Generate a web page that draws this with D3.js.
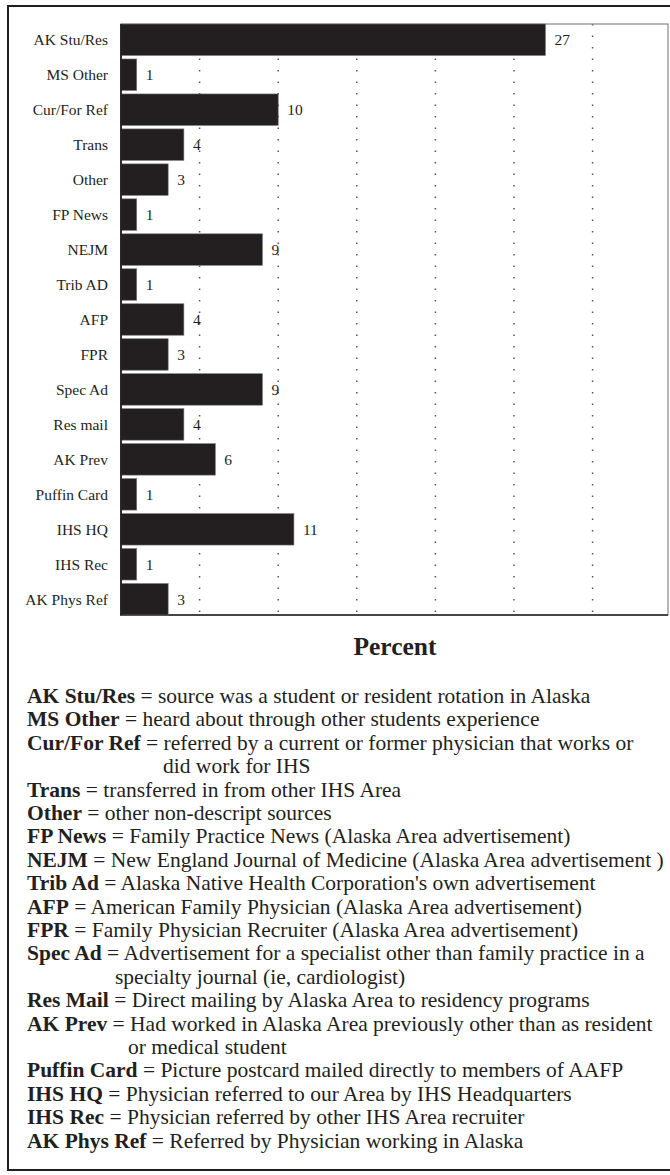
<!DOCTYPE html>
<html>
  <head>
    <script src="https://d3js.org/d3.v7.min.js"></script>
    <style>
      body { margin: 0px; background: #fff; }
      text { font-family: "Liberation Serif", "Times New Roman", serif; fill: #231f20; }
      .cat { font-size: 15.5px; }
      .val { font-size: 15.5px; }
      .title { font-size: 25.5px; font-weight: bold; }
      .key { font-size: 21.5px; }
      .key .abbr { font-weight: bold; }
    </style>
  </head>
  <body>
    <svg width="670" height="1175"></svg>
    <script>
      var categories = ["AK Stu/Res", "MS Other", "Cur/For Ref", "Trans", "Other", "FP News", "NEJM",
        "Trib AD", "AFP", "FPR", "Spec Ad", "Res mail", "AK Prev", "Puffin Card", "IHS HQ", "IHS Rec", "AK Phys Ref"];
      var percents = [27, 1, 10, 4, 3, 1, 9, 1, 4, 3, 9, 4, 6, 1, 11, 1, 3];
      var gridValues = [5, 10, 15, 20, 25, 30];

      // legend: bold abbreviation, description, optional wrapped second line
      var keyAbbr = ["AK Stu/Res", "MS Other", "Cur/For Ref", "Trans", "Other", "FP News", "NEJM", "Trib Ad",
        "AFP", "FPR", "Spec Ad", "Res Mail", "AK Prev", "Puffin Card", "IHS HQ", "IHS Rec", "AK Phys Ref"];
      var keyText = [
        "source was a student or resident rotation in Alaska",
        "heard about through other students experience",
        "referred by a current or former physician that works or",
        "transferred in from other IHS Area",
        "other non-descript sources",
        "Family Practice News (Alaska Area advertisement)",
        "New England Journal of Medicine (Alaska Area advertisement )",
        "Alaska Native Health Corporation's own advertisement",
        "American Family Physician (Alaska Area advertisement)",
        "Family Physician Recruiter (Alaska Area advertisement)",
        "Advertisement for a specialist other than family practice in a",
        "Direct mailing by Alaska Area to residency programs",
        "Had worked in Alaska Area previously other than as resident",
        "Picture postcard mailed directly to members of AAFP",
        "Physician referred to our Area by IHS Headquarters",
        "Physician referred by other IHS Area recruiter",
        "Referred by Physician working in Alaska"
      ];
      var keyWrap = ["", "", "did work for IHS", "", "", "", "", "", "", "",
        "specialty journal (ie, cardiologist)", "", "or medical student", "", "", "", ""];
      var wrapIndent = [0, 0, 163, 0, 0, 0, 0, 0, 0, 0, 115, 0, 128, 0, 0, 0, 0];

      var svg = d3.select("svg");
      var plotLeft = 121, plotTop = 24, plotRight = 668, plotBottom = 615;

      // outer frame
      svg.append("rect")
        .attr("x", 8).attr("y", 6).attr("width", 664).attr("height", 1164)
        .attr("fill", "none").attr("stroke", "#231f20").attr("stroke-width", 2);

      var x = d3.scaleLinear().domain([0, 35]).range([plotLeft, plotLeft + 35 * 15.72]);
      var y = d3.scaleBand().domain(categories).range([plotTop, plotBottom]).paddingInner(0.1).paddingOuter(0);

      // dotted gridlines
      svg.append("g")
        .selectAll("line")
        .data(gridValues)
        .join("line")
        .attr("x1", d => x(d)).attr("x2", d => x(d))
        .attr("y1", plotTop).attr("y2", plotBottom)
        .attr("stroke", "#555").attr("stroke-width", 1.5)
        .attr("stroke-dasharray", "1.5,10");

      // plot frame
      svg.append("rect")
        .attr("x", plotLeft).attr("y", plotTop).attr("width", plotRight - plotLeft).attr("height", plotBottom - plotTop)
        .attr("fill", "none").attr("stroke", "#888").attr("stroke-width", 1.2);
      svg.append("line")
        .attr("x1", plotLeft - 1).attr("x2", plotRight).attr("y1", plotBottom).attr("y2", plotBottom)
        .attr("stroke", "#231f20").attr("stroke-width", 1.5);

      svg.append("g")
        .selectAll("rect")
        .data(percents)
        .join("rect")
        .attr("x", plotLeft)
        .attr("y", (d, i) => y(categories[i]))
        .attr("width", d => x(d) - plotLeft)
        .attr("height", y.bandwidth())
        .attr("fill", "#231f20")
        .attr("stroke", "#777").attr("stroke-width", 0.6);

      svg.append("line")
        .attr("x1", plotLeft).attr("x2", plotLeft).attr("y1", plotTop).attr("y2", plotBottom)
        .attr("stroke", "#231f20").attr("stroke-width", 1.8);

      svg.append("g")
        .selectAll("text")
        .data(categories)
        .join("text")
        .attr("class", "cat")
        .attr("x", 108)
        .attr("y", d => y(d) + y.bandwidth() / 2)
        .attr("dy", "0.35em")
        .attr("text-anchor", "end")
        .text(d => d);

      svg.append("g")
        .selectAll("text")
        .data(percents)
        .join("text")
        .attr("class", "val")
        .attr("x", d => x(d) + 9)
        .attr("y", (d, i) => y(categories[i]) + y.bandwidth() / 2)
        .attr("dy", "0.35em")
        .text(d => d);

      svg.append("text")
        .attr("class", "title")
        .attr("x", 395).attr("y", 655)
        .attr("text-anchor", "middle")
        .text("Percent");

      // key
      var lineH = 23.4, y0 = 703, row = 0;
      var key = svg.append("g").attr("class", "key");
      keyAbbr.forEach(function(a, i) {
        var t = key.append("text").attr("x", 27).attr("y", y0 + row * lineH);
        t.append("tspan").attr("class", "abbr").text(a);
        t.append("tspan").text(" = " + keyText[i]);
        row++;
        if (keyWrap[i]) {
          key.append("text").attr("x", wrapIndent[i]).attr("y", y0 + row * lineH).text(keyWrap[i]);
          row++;
        }
      });
    </script>
  </body>
</html>
